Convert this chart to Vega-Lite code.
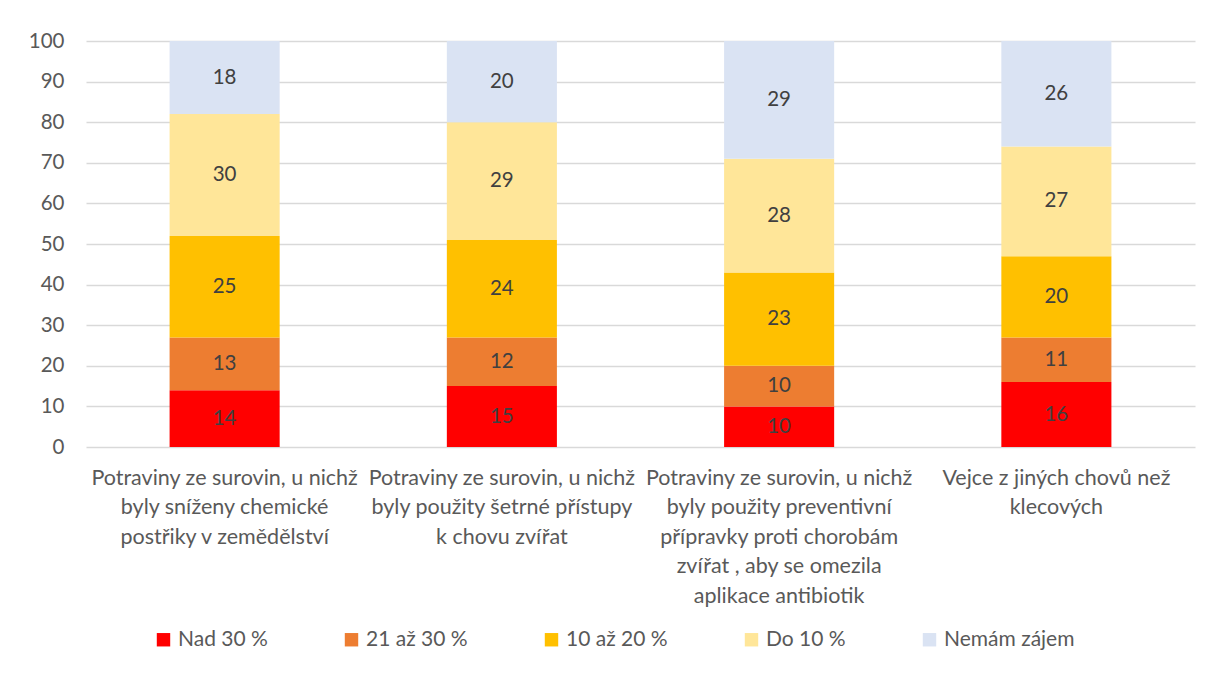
{
  "$schema": "https://vega.github.io/schema/vega-lite/v6.json",
  "width": 1109,
  "height": 406,
  "autosize": {"type": "none"},
  "padding": {"left": 86, "top": 41, "right": 16, "bottom": 233},
  "background": "white",
  "config": {
    "view": {"stroke": null},
    "font": "Lato",
    "legend": {"padding": 0}
  },
  "data": {
    "values": [
      {"item": "Potraviny ze surovin, u nichž\nbyly sníženy chemické\npostřiky v zemědělství", "category": "Nad 30 %", "rank": 1, "value": 14},
      {"item": "Potraviny ze surovin, u nichž\nbyly sníženy chemické\npostřiky v zemědělství", "category": "21 až 30 %", "rank": 2, "value": 13},
      {"item": "Potraviny ze surovin, u nichž\nbyly sníženy chemické\npostřiky v zemědělství", "category": "10 až 20 %", "rank": 3, "value": 25},
      {"item": "Potraviny ze surovin, u nichž\nbyly sníženy chemické\npostřiky v zemědělství", "category": "Do 10 %", "rank": 4, "value": 30},
      {"item": "Potraviny ze surovin, u nichž\nbyly sníženy chemické\npostřiky v zemědělství", "category": "Nemám zájem", "rank": 5, "value": 18},
      {"item": "Potraviny ze surovin, u nichž\nbyly použity šetrné přístupy\nk chovu zvířat", "category": "Nad 30 %", "rank": 1, "value": 15},
      {"item": "Potraviny ze surovin, u nichž\nbyly použity šetrné přístupy\nk chovu zvířat", "category": "21 až 30 %", "rank": 2, "value": 12},
      {"item": "Potraviny ze surovin, u nichž\nbyly použity šetrné přístupy\nk chovu zvířat", "category": "10 až 20 %", "rank": 3, "value": 24},
      {"item": "Potraviny ze surovin, u nichž\nbyly použity šetrné přístupy\nk chovu zvířat", "category": "Do 10 %", "rank": 4, "value": 29},
      {"item": "Potraviny ze surovin, u nichž\nbyly použity šetrné přístupy\nk chovu zvířat", "category": "Nemám zájem", "rank": 5, "value": 20},
      {"item": "Potraviny ze surovin, u nichž\nbyly použity preventivní\npřípravky proti chorobám\nzvířat , aby se omezila\naplikace antibiotik", "category": "Nad 30 %", "rank": 1, "value": 10},
      {"item": "Potraviny ze surovin, u nichž\nbyly použity preventivní\npřípravky proti chorobám\nzvířat , aby se omezila\naplikace antibiotik", "category": "21 až 30 %", "rank": 2, "value": 10},
      {"item": "Potraviny ze surovin, u nichž\nbyly použity preventivní\npřípravky proti chorobám\nzvířat , aby se omezila\naplikace antibiotik", "category": "10 až 20 %", "rank": 3, "value": 23},
      {"item": "Potraviny ze surovin, u nichž\nbyly použity preventivní\npřípravky proti chorobám\nzvířat , aby se omezila\naplikace antibiotik", "category": "Do 10 %", "rank": 4, "value": 28},
      {"item": "Potraviny ze surovin, u nichž\nbyly použity preventivní\npřípravky proti chorobám\nzvířat , aby se omezila\naplikace antibiotik", "category": "Nemám zájem", "rank": 5, "value": 29},
      {"item": "Vejce z jiných chovů než\nklecových", "category": "Nad 30 %", "rank": 1, "value": 16},
      {"item": "Vejce z jiných chovů než\nklecových", "category": "21 až 30 %", "rank": 2, "value": 11},
      {"item": "Vejce z jiných chovů než\nklecových", "category": "10 až 20 %", "rank": 3, "value": 20},
      {"item": "Vejce z jiných chovů než\nklecových", "category": "Do 10 %", "rank": 4, "value": 27},
      {"item": "Vejce z jiných chovů než\nklecových", "category": "Nemám zájem", "rank": 5, "value": 26}
    ]
  },
  "encoding": {
    "x": {
      "field": "item",
      "type": "nominal",
      "sort": null,
      "scale": {"paddingInner": 0.603, "paddingOuter": 0.3015},
      "axis": {
        "title": null,
        "domain": false,
        "ticks": false,
        "grid": false,
        "labelAngle": 0,
        "labelExpr": "split(datum.label, '\\n')",
        "labelLineHeight": 29.5,
        "labelBaseline": "top",
        "labelPadding": 20,
        "labelLimit": 400,
        "labelFontSize": 21.5,
        "labelColor": "#595959",
        "labelFont": "Lato"
      }
    }
  },
  "layer": [
    {
      "mark": {"type": "bar"},
      "encoding": {
        "y": {
          "field": "value",
          "type": "quantitative",
          "stack": "zero",
          "scale": {"domain": [0, 100], "nice": false},
          "axis": {
            "title": null,
            "domain": false,
            "ticks": false,
            "tickCount": 10,
            "labelPadding": 22,
            "labelFontSize": 20.5,
            "labelColor": "#595959",
            "labelFont": "Lato",
            "gridColor": "#d9d9d9",
            "gridWidth": 1.3
          }
        },
        "order": {"field": "rank", "type": "quantitative"},
        "color": {
          "field": "category",
          "type": "nominal",
          "sort": ["Nad 30 %", "21 až 30 %", "10 až 20 %", "Do 10 %", "Nemám zájem"],
          "scale": {
            "domain": ["Nad 30 %", "21 až 30 %", "10 až 20 %", "Do 10 %", "Nemám zájem"],
            "range": ["#ff0000", "#ed7d31", "#ffc000", "#ffe699", "#dae3f3"]
          },
          "legend": {
            "title": null,
            "orient": "none",
            "direction": "horizontal",
            "columns": 5,
            "legendX": 67,
            "legendY": 588,
            "symbolType": "square",
            "symbolSize": 180,
            "symbolStrokeWidth": 0,
            "symbolOpacity": 1,
            "labelFontSize": 21,
            "labelColor": "#595959",
            "labelFont": "Lato",
            "labelOffset": 4,
            "columnPadding": 73
          }
        }
      }
    },
    {
      "transform": [
        {"stack": "value", "groupby": ["item"], "sort": [{"field": "rank"}], "as": ["v0", "v1"]},
        {"fold": ["v0", "v1"], "as": ["edge", "pos"]}
      ],
      "mark": {"type": "text", "fontSize": 20.5, "color": "#404040", "font": "Lato", "baseline": "middle"},
      "encoding": {
        "y": {"aggregate": "mean", "field": "pos", "type": "quantitative"},
        "detail": {"field": "category", "type": "nominal"},
        "text": {"field": "value", "type": "quantitative"}
      }
    }
  ]
}
